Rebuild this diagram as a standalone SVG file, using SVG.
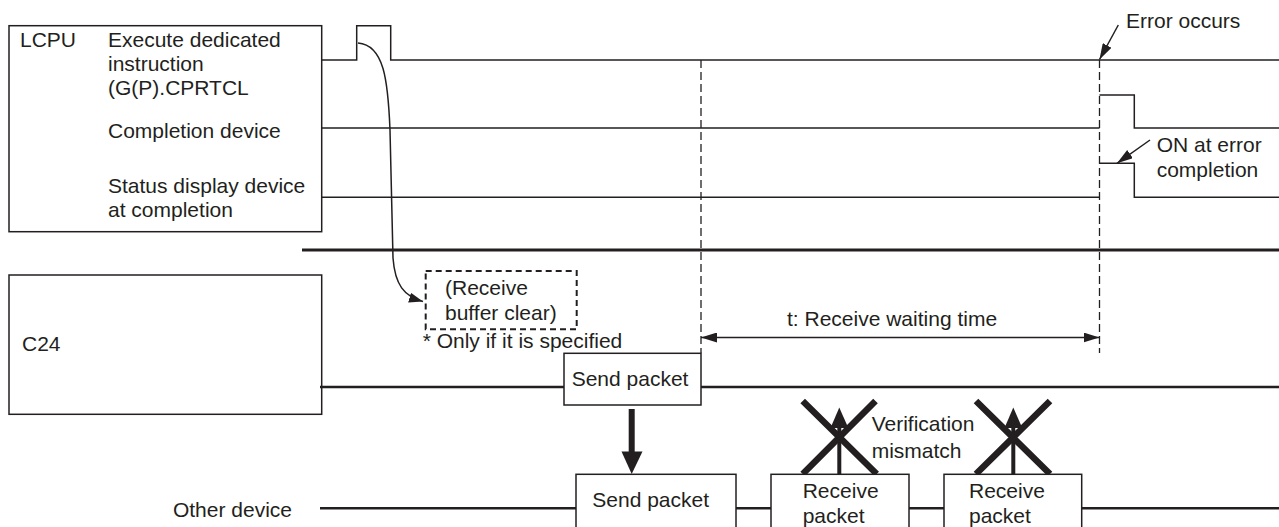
<svg xmlns="http://www.w3.org/2000/svg" width="1279" height="527" viewBox="0 0 1279 527">
<style>
text{font-family:"Liberation Sans",Arial,sans-serif;font-size:21px;fill:#231f20}
.box{fill:#fff;stroke:#231f20;stroke-width:1.5}
.sig{fill:none;stroke:#231f20;stroke-width:1.5}
.bus{fill:none;stroke:#231f20;stroke-width:3}
.bus2{fill:none;stroke:#231f20;stroke-width:2.5}
.dash{fill:none;stroke:#231f20;stroke-width:1.3;stroke-dasharray:8 4}
.thin{fill:none;stroke:#231f20;stroke-width:1.5}
.xm{stroke:#231f20;stroke-width:6.5;fill:none}
.head{fill:#231f20}
</style>
<defs>
<marker id="ah" viewBox="0 0 14 10" refX="14" refY="5" markerWidth="14" markerHeight="10" markerUnits="userSpaceOnUse" orient="auto-start-reverse">
<path d="M0,0 L14,5 L0,10 Z" fill="#231f20"/>
</marker>
<marker id="ah2" viewBox="0 0 16 10" refX="16" refY="5" markerWidth="16" markerHeight="10" markerUnits="userSpaceOnUse" orient="auto-start-reverse">
<path d="M0,0 L16,5 L0,10 Z" fill="#231f20"/>
</marker>
</defs>
<rect width="1279" height="527" fill="#fff"/>

<g id="lcpu">
<rect class="box" x="9" y="25.7" width="312.7" height="206"/>
<text x="20" y="47">LCPU</text>
<text x="108" y="47">Execute dedicated</text>
<text x="108" y="71">instruction</text>
<text x="108" y="95">(G(P).CPRTCL</text>
<text x="108" y="138">Completion device</text>
<text x="108" y="193">Status display device</text>
<text x="108" y="217">at completion</text>
</g>

<g id="c24">
<rect class="box" x="9" y="275" width="312.7" height="139.3"/>
<text x="22" y="351">C24</text>
</g>

<g id="other-device">
<text x="292" y="516.5" text-anchor="end">Other device</text>
</g>

<g id="connectors">
<path class="sig" d="M321.7,60 H356.7 V25.7 H390.7 V60 H1279"/>
<path class="sig" d="M321.7,128 H1099.5 M1099.5,95 H1134.3 V128 H1279"/>
<path class="sig" d="M321.7,197.3 H1099.5 M1099.5,163.3 H1134.3 V197.3 H1279"/>
<path class="bus" d="M302,250 H1279"/>
<path class="bus2" d="M320,387 H564 M701,387 H1279"/>
<path class="bus2" d="M320,508.3 H576 M736,508.3 H771 M909,508.3 H944 M1081.7,508.3 H1279"/>
<path class="dash" d="M701,60 V353"/>
<path class="dash" d="M1099.5,60 V353"/>
<path class="thin" marker-end="url(#ah)" d="M358,43 C384,45 388,80 390,130 L393,258 C395,285 404,296 423,301.5"/>
<path class="thin" marker-end="url(#ah2)" d="M1118.3,25 L1099.5,59.5"/>
<path class="thin" marker-end="url(#ah2)" d="M1150,140 L1117,163.3"/>
<path class="thin" marker-start="url(#ah2)" marker-end="url(#ah2)" d="M701,337.5 H1099.5"/>
<path stroke="#231f20" stroke-width="6" d="M631.7,409 V453"/>
<path class="head" d="M621.5,451.5 L642.5,451.5 L631.7,474 Z"/>
<path stroke="#231f20" stroke-width="4" d="M839.3,474 V426"/>
<path class="head" d="M830.5,428 L848.3,428 L839.3,407.5 Z"/>
<path stroke="#231f20" stroke-width="4" d="M1013.3,474 V426"/>
<path class="head" d="M1004.5,428 L1022.3,428 L1013.3,407.5 Z"/>
<path class="xm" d="M802.7,401 L876.7,474 M875.5,401 L802.7,474"/>
<path class="xm" d="M976,401 L1050,474 M1050,401 L976,474"/>
</g>

<g id="buffer-clear">
<rect x="425.7" y="271" width="151" height="58.3" fill="none" stroke="#231f20" stroke-width="2" stroke-dasharray="6 4"/>
<text x="445" y="295">(Receive</text>
<text x="445" y="320">buffer clear)</text>
<text x="422.7" y="348">* Only if it is specified</text>
</g>

<g id="send-packet-c24">
<rect class="box" x="564" y="353.3" width="137" height="51.7"/>
<text x="571.7" y="386">Send packet</text>
</g>

<g id="send-packet-other">
<rect class="box" x="576" y="474.3" width="160" height="60"/>
<text x="592.3" y="506.7">Send packet</text>
</g>

<g id="receive-packet-1">
<rect class="box" x="771" y="474.3" width="138" height="60"/>
<text x="802.7" y="497.7">Receive</text>
<text x="802.7" y="523">packet</text>
</g>

<g id="receive-packet-2">
<rect class="box" x="944" y="474.3" width="137.7" height="60"/>
<text x="969" y="497.7">Receive</text>
<text x="969" y="523">packet</text>
</g>

<g id="labels">
<text x="1126" y="28.3">Error occurs</text>
<text x="1156.7" y="152">ON at error</text>
<text x="1156.7" y="176.7">completion</text>
<text x="787" y="326">t: Receive waiting time</text>
<text x="871.7" y="431">Verification</text>
<text x="871.7" y="458">mismatch</text>
</g>
</svg>
